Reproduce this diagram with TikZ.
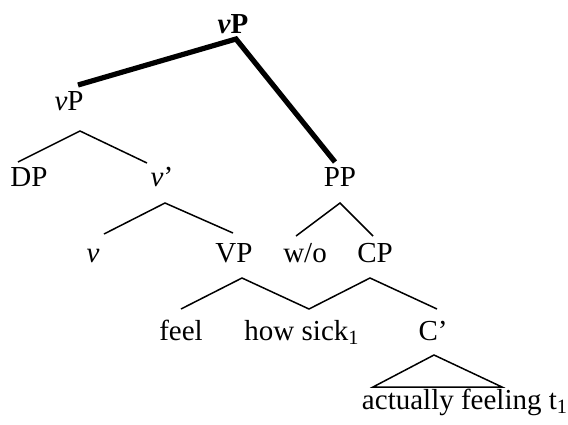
\documentclass[tikz,border=0pt]{standalone}
\usepackage{fontspec}
\setmainfont{Liberation Serif}
\usetikzlibrary{positioning}

\begin{document}
\begin{tikzpicture}[
  x=0.5pt, y=-0.5pt,
  cat/.style={anchor=base, inner sep=0pt, font=\fontsize{14.5}{17}\selectfont},
  branch/.style={line width=0.75pt, line join=miter},
  heavy/.style={line width=2.6pt, line join=miter}
]
\useasboundingbox (0,0) rectangle (568,424);

% labels
\node[cat] (vPt)  at (233,33)  {\textbf{\textit{v}P}};
\node[cat] (vPl)  at (69,110)  {\textit{v}P};
\node[cat] (DP)   at (29,186)  {DP};
\node[cat] (vbar) at (162,186) {\textit{v}’};
\node[cat] (v)    at (93,262)  {\textit{v}};
\node[cat] (VP)   at (234,262) {VP};
\node[cat] (PP)   at (340,186) {PP};
\node[cat] (wo)   at (305,262) {w/o};
\node[cat] (CP)   at (375,262) {CP};
\node[cat] (feel) at (181,340) {feel};
\node[cat] (how)  at (302,340) {how sick\textsubscript{1}};
\node[cat] (Cbar) at (433,340) {C’};
\node[cat] (act)  at (465,409) {actually feeling t\textsubscript{1}};

% thick path
\draw[heavy] ([shift={(9,-25)}]vPl.base) -- ([shift={(3,6)}]vPt.base)
  -- ([shift={(-5,-24)}]PP.base);

% branches
\draw[branch] ([shift={(-11,-24)}]DP.base) -- ([shift={(11,21)}]vPl.base)
  -- ([shift={(-15,-23)}]vbar.base);
\draw[branch] ([shift={(11,-28)}]v.base) -- ([shift={(3,17)}]vbar.base)
  -- ([shift={(-1,-29)}]VP.base);
\draw[branch] ([shift={(-9,-26)}]wo.base) -- ([shift={(0,17)}]PP.base)
  -- ([shift={(-2,-26)}]CP.base);
\draw[branch] ([shift={(0,-31)}]feel.base) -- ([shift={(8,16)}]VP.base)
  -- ([shift={(7,-31)}]how.base) -- ([shift={(-5,16)}]CP.base)
  -- ([shift={(4,-31)}]Cbar.base);

% triangle
\draw[branch] ([shift={(1,15)}]Cbar.base) -- ([shift={(-92,-22)}]act.base)
  -- ([shift={(37,-22)}]act.base) -- cycle;
\end{tikzpicture}
\end{document}
